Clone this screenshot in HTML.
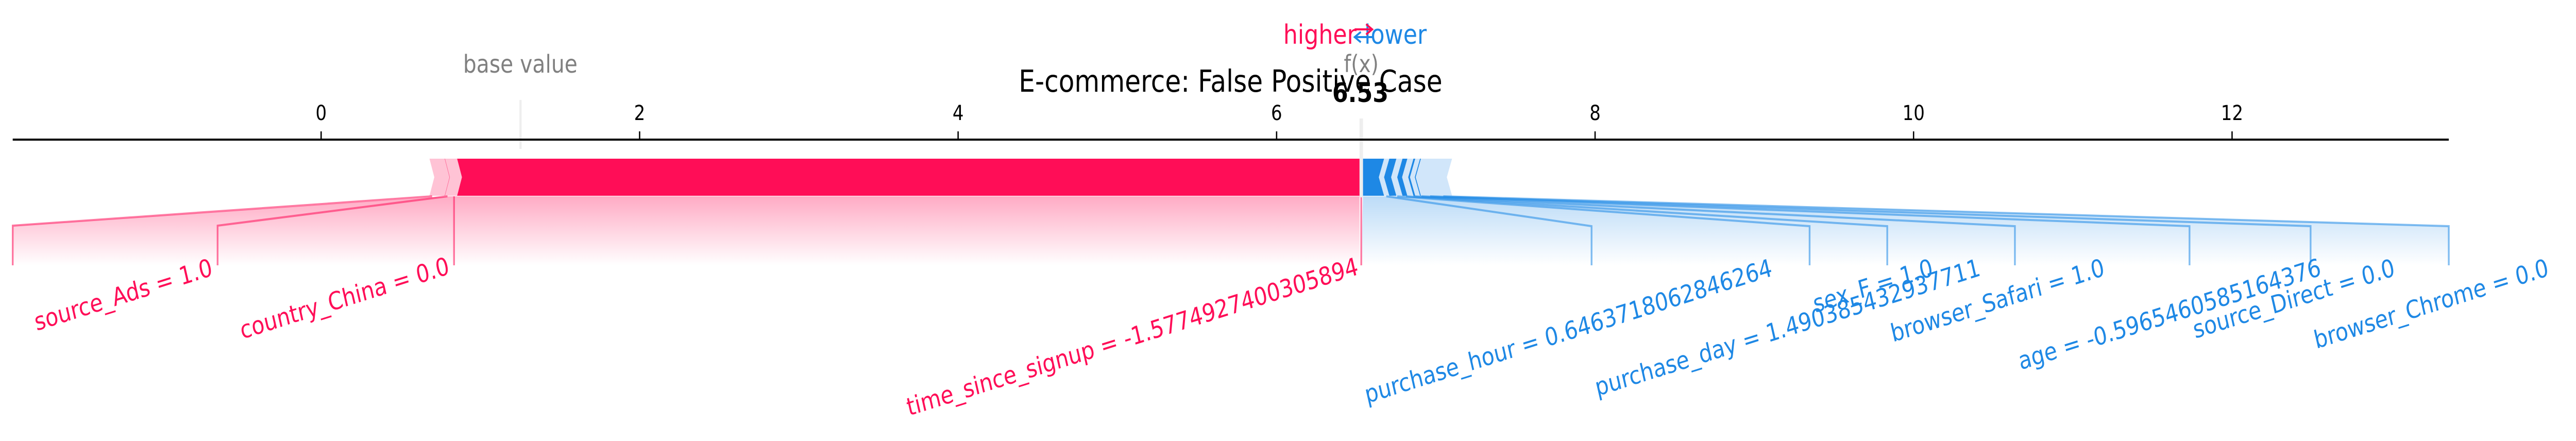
<!DOCTYPE html>
<html><head><meta charset="utf-8"><style>
html,body{margin:0;padding:0;background:#fff;overflow:hidden;width:100%;height:100%;}
svg{display:block;width:100vw;height:100vh;}
text{font-family:"DejaVu Sans","Liberation Sans",sans-serif;}
</style></head><body>
<svg viewBox="0 0 5872 856" preserveAspectRatio="none" xmlns="http://www.w3.org/2000/svg">
<defs>
<linearGradient id="gr" x1="0" y1="0" x2="0" y2="1">
<stop offset="0" stop-color="#ff0d57" stop-opacity="0.35"/>
<stop offset="1" stop-color="#ff0d57" stop-opacity="0"/>
</linearGradient>
<linearGradient id="gb" x1="0" y1="0" x2="0" y2="1">
<stop offset="0" stop-color="#1e88e5" stop-opacity="0.3"/>
<stop offset="1" stop-color="#1e88e5" stop-opacity="0"/>
</linearGradient>
</defs>

<text x="2805" y="178" font-size="59" text-anchor="middle" fill="#000">E-commerce: False Positive Case</text>
<text x="3092" y="85" font-size="52" text-anchor="end" fill="#ff0d57">higher</text>
<text x="3110" y="85" font-size="52" text-anchor="start" fill="#1e88e5">lower</text>
<line x1="3088" y1="57" x2="3126" y2="57" stroke="#ff0d57" stroke-width="4"/>
<polyline points="3114,47 3128,57 3114,67" fill="none" stroke="#ff0d57" stroke-width="4"/>
<line x1="3090" y1="72" x2="3128" y2="72" stroke="#1e88e5" stroke-width="4"/>
<polyline points="3102,62 3088,72 3102,82" fill="none" stroke="#1e88e5" stroke-width="4"/>
<text x="3103" y="140" font-size="46" text-anchor="middle" fill="#808080">f(x)</text>
<text x="3101" y="198" font-size="52" font-weight="bold" text-anchor="middle" fill="#000">6.53</text>
<text x="1186" y="141" font-size="48" text-anchor="middle" fill="#808080">base value</text>

<rect x="1184" y="194" width="5" height="95" fill="#eeeeee"/>
<rect x="3099" y="230" width="8" height="153" fill="#eeeeee"/>

<rect x="29" y="269" width="5553" height="4" fill="#000"/>
<g stroke="#000" stroke-width="3">
<line x1="732" y1="255" x2="732" y2="271"/>
<line x1="1458" y1="255" x2="1458" y2="271"/>
<line x1="2184" y1="255" x2="2184" y2="271"/>
<line x1="2910" y1="255" x2="2910" y2="271"/>
<line x1="3636" y1="255" x2="3636" y2="271"/>
<line x1="4362" y1="255" x2="4362" y2="271"/>
<line x1="5088" y1="255" x2="5088" y2="271"/>
</g>
<g font-size="40" text-anchor="middle" fill="#000">
<text x="732" y="233">0</text>
<text x="1458" y="233">2</text>
<text x="2184" y="233">4</text>
<text x="2910" y="233">6</text>
<text x="3636" y="233">8</text>
<text x="4362" y="233">10</text>
<text x="5088" y="233">12</text>
</g>

<polygon points="1023,381 3099,381 3099,515 29,515 29,438" fill="url(#gr)"/>
<polygon points="3107,381 3310,381 5582,439 5582,515 3103,515" fill="url(#gb)"/>

<polygon points="979,308 1042,308 1053,344 1042,380 979,380 990,344" fill="#ffc3d5"/>
<polygon points="1042,308 3099,308 3099,380 1042,380 1053,344" fill="#ff0d57"/>
<line x1="1014" y1="308" x2="1025" y2="344" stroke="#ff0d57" stroke-width="1" opacity="0.5"/>
<line x1="1025" y1="344" x2="1014" y2="380" stroke="#ff0d57" stroke-width="1" opacity="0.5"/>

<polygon points="3155,308 3310,308 3298,344 3310,380 3155,380 3143,344" fill="#d1e6fa"/>
<polygon points="3107,308 3155,308 3143,344 3155,380 3107,380" fill="#1e88e5"/>
<polygon points="3167,308 3183,308 3171,344 3183,380 3167,380 3155,344" fill="#1e88e5"/>
<polygon points="3197,308 3208,308 3196,344 3208,380 3197,380 3185,344" fill="#1e88e5"/>
<polygon points="3222,308 3226,308 3214,344 3226,380 3222,380 3210,344" fill="#1e88e5"/>
<polygon points="3237,308 3239,308 3227,344 3239,380 3237,380 3225,344" fill="#1e88e5"/>

<g stroke="#ff0d57" stroke-opacity="0.55" fill="none">
<polyline points="985,381 29,438 29,515" stroke-width="4"/>
<polyline points="1020,381 496,438 496,515" stroke-width="4"/>
<line x1="1035" y1="381" x2="1035" y2="515" stroke-width="4"/>
<line x1="3103" y1="383" x2="3103" y2="515" stroke-width="4"/>
</g>

<g stroke="#1e88e5" stroke-opacity="0.55" fill="none" stroke-width="4">
<polyline points="3160,381 3628,439 3628,515"/>
<polyline points="3185,381 4125,439 4125,515"/>
<polyline points="3205,381 4302,439 4302,515"/>
<polyline points="3222,381 4593,439 4593,515"/>
<polyline points="3240,381 4991,439 4991,515"/>
<polyline points="3260,381 5267,439 5267,515"/>
<polyline points="3290,381 5582,439 5582,515"/>
</g>

<g font-size="48" fill="#ff0d57" text-anchor="end">
<text transform="translate(487,534) rotate(-15)">source_Ads = 1.0</text>
<text transform="translate(1027,531) rotate(-15)">country_China = 0.0</text>
<text transform="translate(3099,532) rotate(-15)">time_since_signup = -1.5774927400305894</text>
</g>

<g font-size="48" fill="#1e88e5" text-anchor="start">
<text transform="translate(3116,783) rotate(-15)">purchase_hour = 0.6463718062846264</text>
<text transform="translate(3641,769) rotate(-15)">purchase_day = 1.490385432937711</text>
<text transform="translate(4138,607) rotate(-15)">sex_F = 1.0</text>
<text transform="translate(4315,664) rotate(-15)">browser_Safari = 1.0</text>
<text transform="translate(4606,718) rotate(-15)">age = -0.5965460585164376</text>
<text transform="translate(5004,657) rotate(-15)">source_Direct = 0.0</text>
<text transform="translate(5280,677) rotate(-15)">browser_Chrome = 0.0</text>
</g>
</svg>
</body></html>
